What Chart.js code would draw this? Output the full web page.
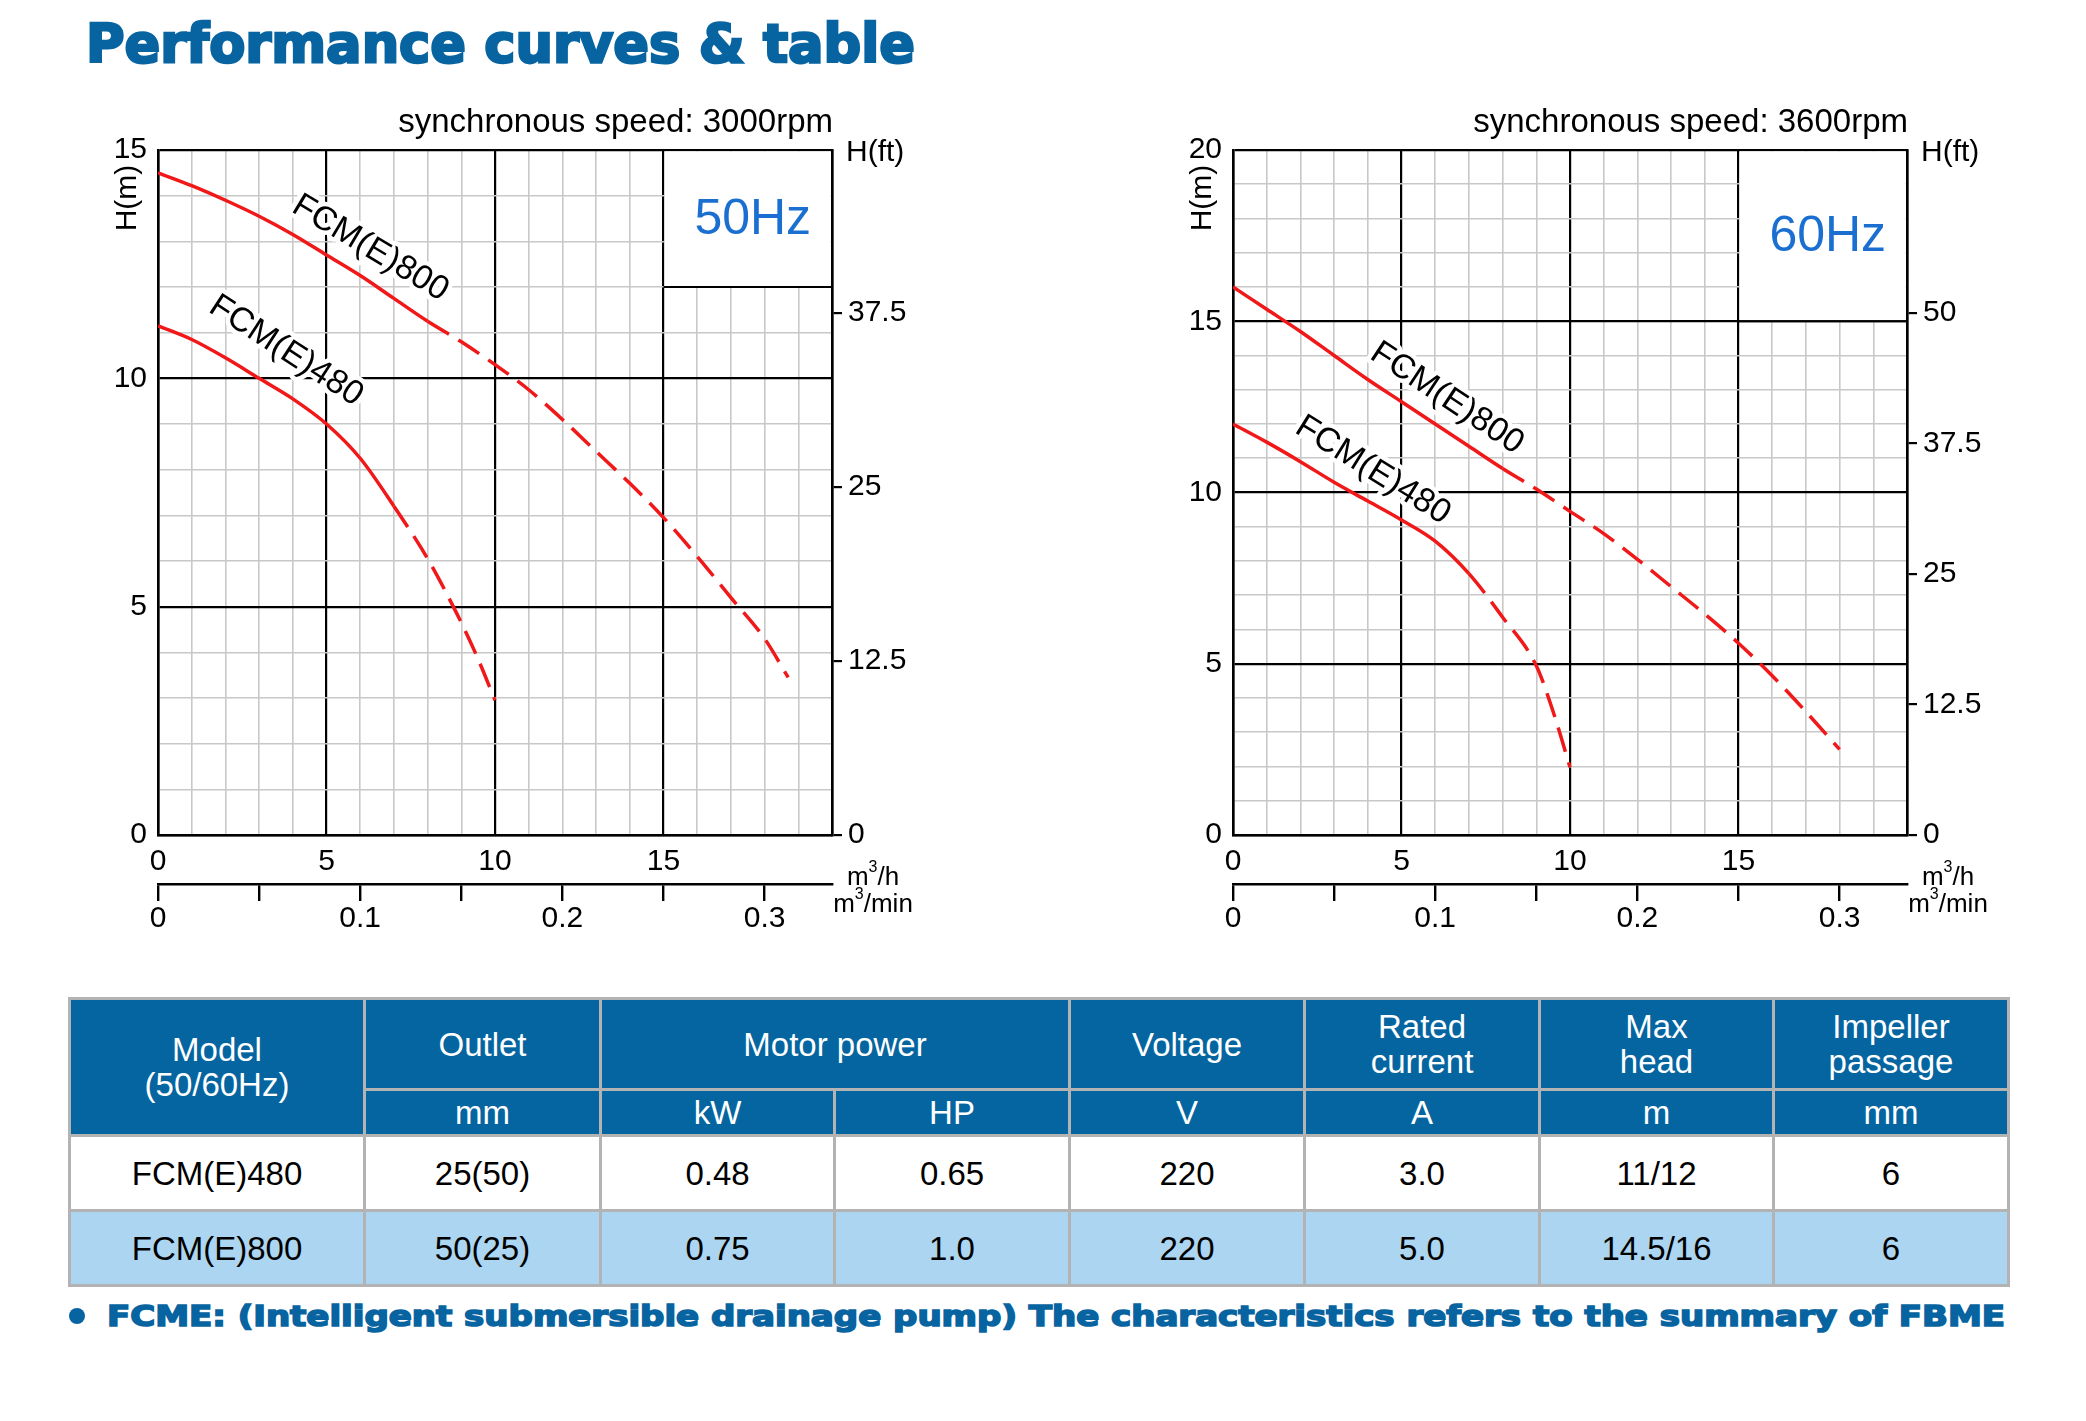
<!DOCTYPE html>
<html>
<head>
<meta charset="utf-8">
<script src="https://cdn.jsdelivr.net/npm/chart.js@4.4.1/dist/chart.umd.min.js"></script>
<style>
  html, body { margin: 0; padding: 0; background: #fff; }
  body { width: 2086px; height: 1421px; position: relative; overflow: hidden; font-family: "Liberation Sans", Arial, sans-serif; }
  .title { position: absolute; left: 86px; top: 17px; font: bold 54px "DejaVu Sans"; line-height: 54px; color: #0764a1; white-space: nowrap; transform-origin: 0 0; -webkit-text-stroke: 2.6px #0764a1; }
  .chartbox { position: absolute; top: 90px; width: 872px; height: 854px; }
  #spec { position: absolute; left: 68px; top: 997px; border-collapse: collapse; table-layout: fixed; font-size: 33px; }
  #spec th, #spec td { border: 3px solid #b3b3b3; text-align: center; vertical-align: middle; padding: 0; line-height: 35px; }
  #spec th { background: #0565a0; color: #fff; font-weight: normal; }
  #spec td { color: #000; }
  #spec tr.alt td { background: #abd5f1; }
  .foot { position: absolute; left: 69px; top: 1303px; height: 28px; }
  .dot { position: absolute; left: 0; top: 5px; width: 16px; height: 16px; border-radius: 50%; background: #0764a1; }
  .foottext { position: absolute; left: 38px; top: 0; font: bold 28px "DejaVu Sans"; line-height: 28px; color: #0764a1; white-space: nowrap; transform-origin: 0 0; -webkit-text-stroke: 1.6px #0764a1; }
</style>
</head>
<body>
<div class="title" id="title">Performance curves &amp; table</div>
<div class="chartbox" style="left:60px"><canvas id="chart50"></canvas></div>
<div class="chartbox" style="left:1135px"><canvas id="chart60"></canvas></div>
<table id="spec"></table>
<div class="foot"><span class="dot"></span><span class="foottext" id="foot">FCME: (Intelligent submersible drainage pump) The characteristics refers to the summary of FBME</span></div>

<script>
// Curve data: flow in m3/h, head in m
const flow50_480 = [0, 1, 2, 3, 4, 5, 6, 7, 8, 9, 9.5, 10];
const head50_480 = [11.15, 10.85, 10.45, 10.0, 9.55, 9.0, 8.25, 7.2, 6.05, 4.65, 3.85, 2.95];
const flow50_800 = [0, 1, 2, 3, 4, 5, 6, 7, 8, 9, 10, 11, 12, 13, 14, 15, 16, 17, 18, 18.7];
const head50_800 = [14.5, 14.22, 13.9, 13.55, 13.15, 12.7, 12.25, 11.75, 11.25, 10.8, 10.3, 9.75, 9.1, 8.4, 7.7, 6.95, 6.1, 5.2, 4.3, 3.45];

const flow60_480 = [0, 1, 2, 3, 4, 5, 6, 7, 8, 9, 9.5, 10];
const head60_480 = [12.0, 11.47, 10.9, 10.3, 9.75, 9.2, 8.58, 7.63, 6.36, 4.94, 3.6, 1.98];
const flow60_800 = [0, 1, 2, 3, 4, 5, 6, 7, 8, 9, 10, 11, 12, 13, 14, 15, 16, 17, 18];
const head60_800 = [16.0, 15.35, 14.7, 14.0, 13.3, 12.65, 12.0, 11.35, 10.7, 10.1, 9.45, 8.8, 8.05, 7.25, 6.45, 5.6, 4.65, 3.6, 2.5];

// where the solid part of each curve stops (dashed beyond)
const solidEnd480 = 7;
const solidEnd800 = 8;

// tick labels
const flowTicks = [0, 5, 10, 15];
const headTicks50 = [0, 5, 10, 15];
const headTicks60 = [0, 5, 10, 15, 20];
const ftTicks50 = [0, 12.5, 25, 37.5];
const ftTicks60 = [0, 12.5, 25, 37.5, 50];
const minTicks = [0, 0.05, 0.1, 0.15, 0.2, 0.25, 0.3];
const minLabels = ['0', '', '0.1', '', '0.2', '', '0.3'];

// table
const headRow = ['Model\n(50/60Hz)', 'Outlet', 'Motor power', 'Voltage', 'Rated\ncurrent', 'Max\nhead', 'Impeller\npassage'];
const unitRow = ['mm', 'kW', 'HP', 'V', 'A', 'm', 'mm'];
const models = ['FCM(E)480', 'FCM(E)800'];
const outlet = ['25(50)', '50(25)'];
const powerKW = ['0.48', '0.75'];
const powerHP = ['0.65', '1.0'];
const voltage = ['220', '220'];
const ratedCurrent = ['3.0', '5.0'];
const maxHead = ['11/12', '14.5/16'];
const impeller = ['6', '6'];

const FT = 3.28084;
const RED = '#f01818';
Chart.defaults.font.family = '"Liberation Sans", Arial, sans-serif';
Chart.defaults.color = '#000';

// text, white box and curve labels drawn on top of the plot
const overlay = {
  id: 'overlay',
  beforeDatasetsDraw(chart, args, o) {
    const { ctx, chartArea: a, scales: { x, y } } = chart;
    const bx = x.getPixelForValue(o.box[0]);
    const by = y.getPixelForValue(o.box[1]);
    ctx.save();
    ctx.fillStyle = '#fff';
    ctx.fillRect(bx + 1.2, a.top + 1.4, a.right - bx - 2.6, by - a.top - 2.4);
    ctx.strokeStyle = '#000';
    ctx.lineWidth = 2.2;
    ctx.beginPath();
    ctx.moveTo(bx, by); ctx.lineTo(a.right, by);
    ctx.stroke();
    ctx.fillStyle = '#1a6fd0';
    ctx.font = '50px "Liberation Sans"';
    ctx.textAlign = 'center';
    ctx.textBaseline = 'middle';
    ctx.fillText(o.hz, (bx + a.right) / 2 + 5, (a.top + by) / 2 + 2);
    ctx.restore();
  },
  afterDraw(chart, args, o) {
    const { ctx, chartArea: a, scales: { x, y } } = chart;
    ctx.save();
    ctx.fillStyle = '#000';
    ctx.textBaseline = 'middle';

    ctx.font = '33px "Liberation Sans"';
    ctx.textAlign = 'right';
    ctx.fillText(o.speed, a.right + 1, a.top - 27);

    ctx.font = '30px "Liberation Sans"';
    ctx.textAlign = 'left';
    ctx.fillText('H(ft)', a.right + 14, a.top + 3);

    ctx.save();
    ctx.translate(a.left - 30, a.top + 48);
    ctx.rotate(-Math.PI / 2);
    ctx.textAlign = 'center';
    ctx.fillText('H(m)', 0, 0);
    ctx.restore();

    // unit labels with superscript 3
    const unit = (pre, post, cx, cy) => {
      ctx.font = '26px "Liberation Sans"';
      const w1 = ctx.measureText(pre).width;
      const w3 = ctx.measureText(post).width;
      ctx.font = '16px "Liberation Sans"';
      const ws = ctx.measureText('3').width;
      let sx = cx - (w1 + ws + w3) / 2;
      ctx.textAlign = 'left';
      ctx.font = '26px "Liberation Sans"';
      ctx.fillText(pre, sx, cy);
      ctx.font = '16px "Liberation Sans"';
      ctx.fillText('3', sx + w1, cy - 10);
      ctx.font = '26px "Liberation Sans"';
      ctx.fillText(post, sx + w1 + ws, cy);
    };
    unit('m', '/h', a.right + 41, a.bottom + 43);
    unit('m', '/min', a.right + 41, a.bottom + 70);

    // curve names along the curves
    ctx.font = '34px "Liberation Sans"';
    ctx.textAlign = 'center';
    ctx.lineJoin = 'round';
    o.labels.forEach(l => {
      ctx.save();
      ctx.translate(x.getPixelForValue(l.x), y.getPixelForValue(l.y));
      ctx.rotate(l.angle * Math.PI / 180);
      ctx.strokeStyle = '#fff';
      ctx.lineWidth = 9;
      ctx.strokeText(l.text, 0, 0);
      ctx.fillStyle = '#000';
      ctx.fillText(l.text, 0, 0);
      ctx.restore();
    });
    ctx.restore();
  }
};

function curve(flows, heads, solidEnd) {
  return {
    data: flows.map((q, i) => ({ x: q, y: heads[i] })),
    borderColor: RED,
    borderWidth: 3.5,
    pointRadius: 0,
    fill: false,
    cubicInterpolationMode: 'monotone',
    segment: {
      borderDash: ctx => ctx.p0.parsed.x >= solidEnd ? [25, 11] : []
    }
  };
}

function makeChart(id, yMax, headTicks, ftTicks, datasets, overlayOpts) {
  const isMajor = v => Math.abs(v % 5) < 1e-6;
  return new Chart(document.getElementById(id), {
    type: 'line',
    data: { datasets },
    plugins: [overlay],
    options: {
      responsive: true,
      maintainAspectRatio: false,
      animation: false,
      layout: { padding: { top: 60, left: 0, right: 0, bottom: 0 } },
      plugins: { legend: { display: false }, tooltip: { enabled: false }, overlay: overlayOpts },
      scales: {
        x: {
          type: 'linear', position: 'bottom', min: 0, max: 20,
          afterFit: s => { s.height = 49; },
          ticks: {
            stepSize: 1, autoSkip: false, maxRotation: 0, minRotation: 0, padding: 9,
            font: { size: 30 },
            callback: v => flowTicks.includes(v) ? String(v) : ''
          },
          grid: {
            drawTicks: false,
            color: c => isMajor(c.tick.value) ? '#000' : '#c8c8c8',
            lineWidth: c => isMajor(c.tick.value) ? 2.2 : 1.6
          },
          border: { display: true, color: '#000', width: 2.6 }
        },
        x2: {
          type: 'linear', position: 'bottom', min: 0, max: 20 / 60,
          afterFit: s => { s.height = 60; },
          afterBuildTicks: s => { s.ticks = minTicks.map(v => ({ value: v })); },
          ticks: {
            autoSkip: false, maxRotation: 0, minRotation: 0, padding: 0,
            font: { size: 30 },
            callback: (v, i) => minLabels[i]
          },
          grid: { drawOnChartArea: false, drawTicks: true, tickLength: 17, color: '#000', lineWidth: 2.4 },
          border: { display: true, color: '#000', width: 2.4 }
        },
        y: {
          type: 'linear', position: 'left', min: 0, max: yMax,
          afterFit: s => { s.width = 98; },
          ticks: {
            stepSize: 1, autoSkip: false, padding: 11,
            font: { size: 30 },
            callback: v => headTicks.includes(v) ? String(v) : ''
          },
          grid: {
            drawTicks: false,
            color: c => isMajor(c.tick.value) ? '#000' : '#c8c8c8',
            lineWidth: c => isMajor(c.tick.value) ? 2.2 : 1.6
          },
          border: { display: true, color: '#000', width: 2.6 }
        },
        y2: {
          type: 'linear', position: 'right', min: 0, max: yMax * FT,
          afterFit: s => { s.width = 100; },
          afterBuildTicks: s => { s.ticks = ftTicks.map(v => ({ value: v })); },
          ticks: { autoSkip: false, padding: 6, font: { size: 30 }, callback: v => String(v) },
          grid: { drawOnChartArea: false, drawTicks: true, tickLength: 10, color: '#000', lineWidth: 2.2 },
          border: { display: true, color: '#000', width: 2.6 }
        }
      }
    }
  });
}

makeChart('chart50', 15, headTicks50, ftTicks50, [
  curve(flow50_800, head50_800, solidEnd800),
  curve(flow50_480, head50_480, solidEnd480)
], {
  speed: 'synchronous speed: 3000rpm',
  hz: '50Hz',
  box: [15, 12],
  labels: [
    { text: 'FCM(E)800', x: 6.3, y: 12.85, angle: 31 },
    { text: 'FCM(E)480', x: 3.8, y: 10.6, angle: 33 }
  ]
});

makeChart('chart60', 20, headTicks60, ftTicks60, [
  curve(flow60_800, head60_800, solidEnd800),
  curve(flow60_480, head60_480, solidEnd480)
], {
  speed: 'synchronous speed: 3600rpm',
  hz: '60Hz',
  box: [15, 15],
  labels: [
    { text: 'FCM(E)800', x: 6.35, y: 12.75, angle: 33.5 },
    { text: 'FCM(E)480', x: 4.15, y: 10.65, angle: 32 }
  ]
});

// spec table
const colWidths = [295, 236, 234, 235, 235, 235, 234, 235];
const table = document.getElementById('spec');
const cg = document.createElement('colgroup');
colWidths.forEach(w => { const c = document.createElement('col'); c.style.width = w + 'px'; cg.appendChild(c); });
table.appendChild(cg);
const br = s => s.replace('\n', '<br>');
let html = '<tr style="height:91px">';
headRow.forEach((h, i) => {
  if (i === 0) html += `<th rowspan="2">${br(h)}</th>`;
  else if (h === 'Motor power') html += `<th colspan="2">${h}</th>`;
  else html += `<th>${br(h)}</th>`;
});
html += '</tr><tr style="height:46px">';
unitRow.forEach(u => { html += `<th>${u}</th>`; });
html += '</tr>';
models.forEach((m, r) => {
  html += `<tr class="${r % 2 ? 'alt' : ''}" style="height:75px">`;
  [m, outlet[r], powerKW[r], powerHP[r], voltage[r], ratedCurrent[r], maxHead[r], impeller[r]].forEach(v => {
    html += `<td>${v}</td>`;
  });
  html += '</tr>';
});
table.insertAdjacentHTML('beforeend', html);

// stretch the heavy texts to the widths seen in the picture
function fitWidth(el, target) {
  const w = el.getBoundingClientRect().width;
  el.style.transform = `scaleX(${target / w})`;
}
fitWidth(document.getElementById('title'), 829);
fitWidth(document.getElementById('foot'), 1898);
</script>
</body>
</html>
